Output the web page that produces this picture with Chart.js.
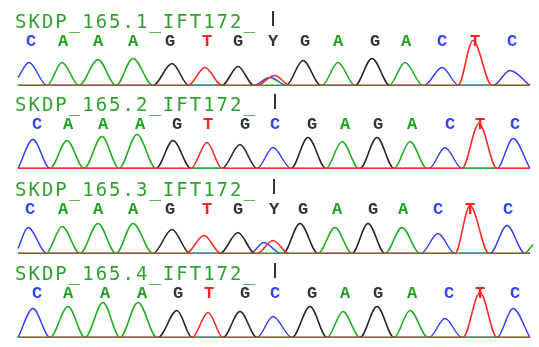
<!DOCTYPE html>
<html>
<head>
<meta charset="utf-8">
<script src="https://cdn.jsdelivr.net/npm/chart.js@4/dist/chart.umd.min.js"></script>
<style>
  body { margin: 0; background: #fff; }
  #wrap { position: relative; width: 539px; height: 347px; }
  canvas { position: absolute; left: 0; }
</style>
</head>
<body>
<div id="wrap"></div>
<script>
// sample names
const titles = ["SKDP_165.1_IFT172_", "SKDP_165.2_IFT172_", "SKDP_165.3_IFT172_", "SKDP_165.4_IFT172_"];

// base calls and their scan positions
const calls1 = ["C","A","A","A","G","T","G","Y","G","A","G","A","C","T","C"];
const calls2 = ["C","A","A","A","G","T","G","C","G","A","G","A","C","T","C"];
const calls3 = ["C","A","A","A","G","T","G","Y","G","A","G","A","C","T","C"];
const calls4 = ["C","A","A","A","G","T","G","C","G","A","G","A","C","T","C"];
const callPos1 = [31, 63, 98, 133, 170, 207, 238, 273, 305, 338, 375, 406, 442, 475, 512];
const callPos2 = [37, 68, 103, 140, 177, 208, 245, 275, 312, 345, 378, 412, 450, 480, 515];
const callPos3 = [30, 63, 98, 133, 170, 207, 238, 274, 303, 337, 373, 403, 438, 470, 508];
const callPos4 = [37, 68, 105, 142, 178, 209, 245, 275, 312, 345, 378, 412, 449, 480, 515];

// traces: [scan, signal]
const a1 = [[18,0],[47,0],[62,23],[79,0],[98,26],[116,0],[133,27],[153,0],[322,0],[338,23],[355,0],[389,0],[405,23],[423,0],[530,0]];
const c1 = [[18,8],[29,23],[47,0],[253,0],[270,8],[287,0],[424,0],[442,18],[459,0],[493,0],[510,15],[530,0]];
const g1 = [[18,0],[153,0],[172,22],[189,0],[222,0],[238,19],[254,0],[286,0],[303,25],[321,0],[355,0],[372,27],[390,0],[530,0]];
const t1 = [[18,0],[188,0],[205,18],[222,0],[256,0],[275,10],[290,0],[458,0],[473,45],[492,0],[530,0]];

const a2 = [[18,0],[50,0],[67,28],[84,0],[102,32],[119,0],[137,34],[156,0],[326,0],[342,27],[359,0],[394,0],[410,27],[427,0],[530,0]];
const c2 = [[18,0],[33,29],[50,0],[257,0],[273,21],[291,0],[429,0],[445,21],[462,0],[497,0],[513,30],[530,0]];
const g2 = [[18,0],[156,0],[173,28],[191,0],[222,0],[240,24],[257,0],[291,0],[308,31],[326,0],[360,0],[377,31],[394,0],[530,0]];
const t2 = [[18,0],[191,0],[207,26],[222,0],[462,0],[479,45],[497,0],[530,0]];

const a3 = [[18,0],[46,0],[62,27],[80,0],[98,30],[116,0],[133,30],[153,0],[318,0],[335,26],[352,0],[385,0],[402,26],[420,0],[524,0],[533,9]];
const c3 = [[18,5],[28,26],[47,0],[250,0],[264,11],[281,0],[421,0],[438,20],[455,0],[490,0],[507,28],[525,0],[530,0]];
const g3 = [[18,0],[153,0],[172,24],[190,0],[220,0],[238,21],[255,0],[283,0],[300,30],[318,0],[352,0],[368,30],[385,0],[530,0]];
const t3 = [[18,0],[186,0],[204,18],[221,0],[257,0],[273,13],[289,0],[455,0],[470,48],[489,0],[530,0]];

const a4 = [[18,0],[50,0],[68,31],[85,0],[103,35],[120,0],[138,35],[157,0],[327,0],[343,26],[360,0],[394,0],[410,27],[428,0],[530,0]];
const c4 = [[18,0],[33,29],[50,0],[257,0],[273,21],[292,0],[429,0],[445,19],[462,0],[497,0],[513,29],[530,0]];
const g4 = [[18,0],[158,0],[177,27],[192,0],[223,0],[240,26],[257,0],[292,0],[310,31],[327,0],[360,0],[377,31],[394,0],[530,0]];
const t4 = [[18,0],[192,0],[208,25],[223,0],[463,0],[480,45],[497,0],[530,0]];

const panels = [
  { calls: calls1, pos: callPos1, tr: { T: t1, A: a1, G: g1, C: c1 } },
  { calls: calls2, pos: callPos2, tr: { T: t2, A: a2, G: g2, C: c2 } },
  { calls: calls3, pos: callPos3, tr: { T: t3, A: a3, G: g3, C: c3 } },
  { calls: calls4, pos: callPos4, tr: { T: t4, A: a4, G: g4, C: c4 } },
];
const panelTop = [0, 83, 168, 252];

const traceColor = { A: "#1fae1f", C: "#2a3cff", G: "#262626", T: "#ff2a2a" };
const textColor = { A: "#1fa21f", C: "#3344ff", G: "#333333", T: "#ff2222", Y: "#333333" };
const titleGreen = "#2ea22e";

function labels(i) {
  return {
    id: "labels" + i,
    afterDraw(chart) {
      const ctx = chart.ctx;
      const xs = chart.scales.x;
      const p = panels[i];
      ctx.save();
      // sample name
      ctx.font = "19px 'DejaVu Sans Mono'";
      ctx.fillStyle = titleGreen;
      ctx.textAlign = "left";
      ctx.textBaseline = "alphabetic";
      if ("letterSpacing" in ctx) ctx.letterSpacing = "2px";
      ctx.fillText(titles[i], 15, 28);
      if ("letterSpacing" in ctx) ctx.letterSpacing = "0px";
      // position marker
      ctx.strokeStyle = "#333";
      ctx.lineWidth = 2;
      ctx.beginPath();
      const mx = Math.round(xs.getPixelForValue(p.pos[7]));
      ctx.moveTo(mx, 11);
      ctx.lineTo(mx, 26);
      ctx.stroke();
      // base calls
      ctx.font = "bold 17px 'Liberation Mono'";
      ctx.textAlign = "center";
      p.calls.forEach((b, k) => {
        ctx.fillStyle = textColor[b];
        ctx.fillText(b, xs.getPixelForValue(p.pos[k]), 46);
      });
      ctx.restore();
    }
  };
}

const wrap = document.getElementById("wrap");
panels.forEach((p, i) => {
  const cv = document.createElement("canvas");
  cv.width = 539;
  cv.height = 86;
  cv.style.top = panelTop[i] + "px";
  wrap.appendChild(cv);
  new Chart(cv, {
    type: "line",
    data: {
      datasets: ["T", "A", "G", "C"].map(ch => ({
        label: ch,
        data: p.tr[ch].map(([x, y]) => ({ x, y })),
        borderColor: traceColor[ch],
        borderWidth: ch === "C" ? 1.4 : 1.6,
        pointRadius: 0,
        fill: false,
        cubicInterpolationMode: "monotone",
      })),
    },
    options: {
      responsive: false,
      animation: false,
      layout: { padding: { top: 35, bottom: 0, left: 0, right: 0 } },
      scales: {
        x: { type: "linear", display: false, min: 0, max: 539 },
        y: { display: false, min: -0.5, max: 50.5 },
      },
      plugins: { legend: { display: false }, tooltip: { enabled: false } },
    },
    plugins: [labels(i)],
  });
});
</script>
</body>
</html>
